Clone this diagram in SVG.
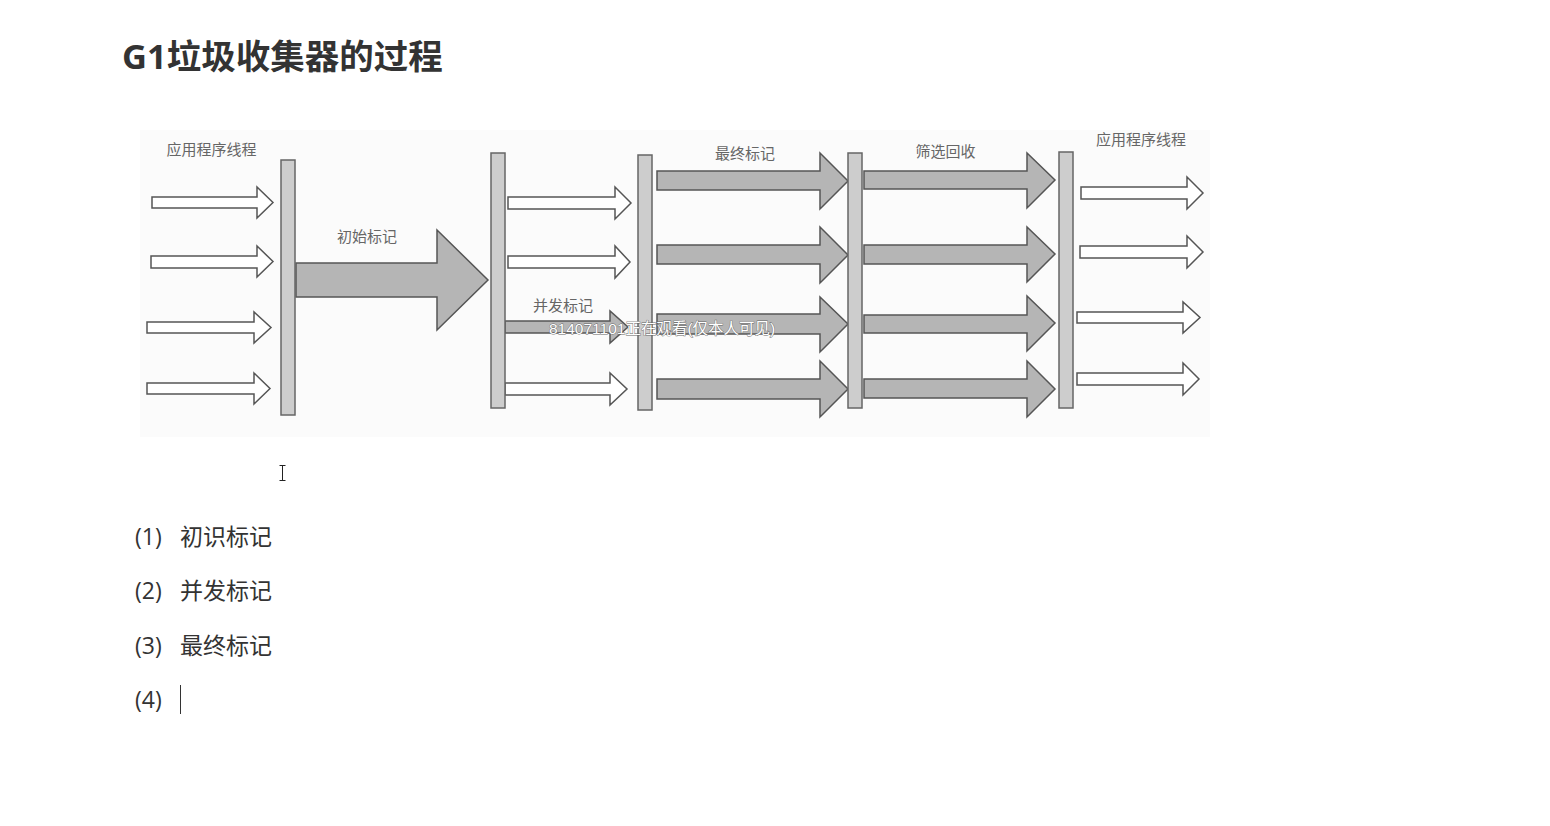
<svg xmlns="http://www.w3.org/2000/svg" width="1550" height="826" viewBox="0 0 1550 826">
<style>
.bar{fill:#cdcdcd;stroke:#666;stroke-width:1.5}
.wa{fill:#fff;stroke:#555;stroke-width:1.5;stroke-linejoin:miter}
.ga{fill:#b5b5b5;stroke:#555;stroke-width:1.5;stroke-linejoin:miter}
.lbl{font-family:"Noto Sans CJK SC","Noto Sans",sans-serif;font-size:15px;fill:#666;text-anchor:middle}
.item{font-family:"Open Sans","Noto Sans CJK SC",sans-serif;font-size:23px;fill:#333}
.title{font-family:"Open Sans","Noto Sans CJK SC",sans-serif;font-size:34.5px;font-weight:bold;fill:#333}
.wm{font-family:"Liberation Sans","Noto Sans CJK SC",sans-serif;font-size:15.5px;fill:#fff;stroke:#666;stroke-width:0.8;paint-order:stroke}
</style>
<rect width="1550" height="826" fill="#fff"/>
<text class="title" x="122" y="69">G1垃圾收集器的过程</text>
<rect x="140" y="130" width="1070" height="307" fill="#fbfbfb"/>
<g id="labels">
<text class="lbl" x="211.5" y="155">应用程序线程</text>
<text class="lbl" x="367" y="242">初始标记</text>
<text class="lbl" x="563" y="311">并发标记</text>
<text class="lbl" x="745" y="159">最终标记</text>
<text class="lbl" x="945.5" y="157">筛选回收</text>
<text class="lbl" x="1141" y="145">应用程序线程</text>
</g>
<g id="connectors">
<polygon class="wa" points="152,197 257,197 257,187 273,202.5 257,218 257,208 152,208"/>
<polygon class="wa" points="151,256 257,256 257,246 273,261.5 257,277 257,268 151,268"/>
<polygon class="wa" points="147,322 254,322 254,312 271,327.5 254,343 254,333 147,333"/>
<polygon class="wa" points="147,383 254,383 254,373 270,388.5 254,404 254,394 147,394"/>
<polygon class="ga" points="296,263 437,263 437,230 488,280 437,330 437,297 296,297"/>
<polygon class="wa" points="508,197 615,197 615,187 631,203 615,219 615,209 508,209"/>
<polygon class="wa" points="508,256 615,256 615,246 630,262 615,278 615,268 508,268"/>
<polygon class="ga" points="505,321 610,321 610,311 628,327 610,343 610,333 505,333"/>
<polygon class="wa" points="505,383 610,383 610,373 627,389 610,405 610,395 505,395"/>
<polygon class="ga" points="657,171 820,171 820,153 848,181 820,209 820,190 657,190"/>
<polygon class="ga" points="657,245 820,245 820,227 848,255 820,283 820,264 657,264"/>
<polygon class="ga" points="657,314 820,314 820,297 848,324 820,352 820,334 657,334"/>
<polygon class="ga" points="657,379 820,379 820,361 848,389 820,417 820,399 657,399"/>
<polygon class="ga" points="864,171 1027,171 1027,153 1055,180 1027,208 1027,189 864,189"/>
<polygon class="ga" points="864,245 1027,245 1027,227 1055,254 1027,282 1027,264 864,264"/>
<polygon class="ga" points="864,315 1027,315 1027,296 1055,323 1027,351 1027,333 864,333"/>
<polygon class="ga" points="864,379 1027,379 1027,361 1055,389 1027,417 1027,398 864,398"/>
<polygon class="wa" points="1081,187 1187,187 1187,177 1203,193 1187,209 1187,199 1081,199"/>
<polygon class="wa" points="1080,246 1187,246 1187,236 1203,252 1187,268 1187,258 1080,258"/>
<polygon class="wa" points="1077,312 1183,312 1183,302 1200,317.5 1183,333 1183,323 1077,323"/>
<polygon class="wa" points="1077,373 1183,373 1183,363 1199,379 1183,395 1183,385 1077,385"/>
</g>
<g id="bar1"><rect class="bar" x="281" y="160" width="14" height="255"/></g>
<g id="bar2"><rect class="bar" x="491" y="153" width="14" height="255"/></g>
<g id="bar3"><rect class="bar" x="638" y="155" width="14" height="255"/></g>
<g id="bar4"><rect class="bar" x="848" y="153" width="14" height="255"/></g>
<g id="bar5"><rect class="bar" x="1059" y="152" width="14" height="256"/></g>
<text class="wm" x="549" y="334">814071101正在观看(仅本人可见)</text>
<path d="M279.5,465.5 h6 M282.5,465.5 v15 M279.5,480.5 h6" stroke="#222" stroke-width="1" fill="none"/>
<g id="list">
<text class="item" x="135" y="545">(1)<tspan x="180">初识标记</tspan></text>
<text class="item" x="135" y="599">(2)<tspan x="180">并发标记</tspan></text>
<text class="item" x="135" y="654">(3)<tspan x="180">最终标记</tspan></text>
<text class="item" x="135" y="708">(4)</text>
<line x1="180.5" y1="685" x2="180.5" y2="714" stroke="#333" stroke-width="1"/>
</g>
</svg>
